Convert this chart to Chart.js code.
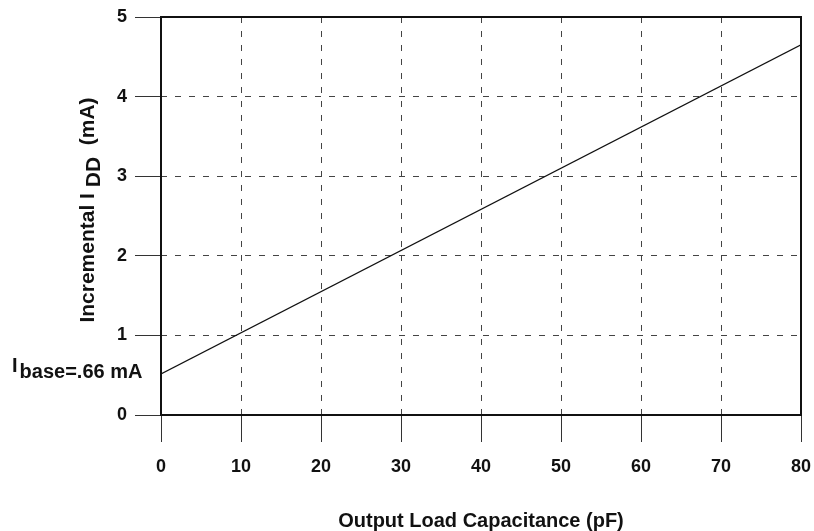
<!DOCTYPE html>
<html>
<head>
<meta charset="utf-8">
<script src="https://cdn.jsdelivr.net/npm/chart.js@4/dist/chart.umd.min.js"></script>
<style>
  html, body { margin: 0; padding: 0; background: #fff; }
  #wrap { width: 814px; height: 531px; }
</style>
</head>
<body>
<div id="wrap"><canvas id="c" width="814" height="531"></canvas></div>
<script>
// ---- data ----
const capacitance = [0, 80];          // pF
const incrementalIdd = [0.515, 4.65]; // mA
const xTicks = [0, 10, 20, 30, 40, 50, 60, 70, 80];
const yTicks = [0, 1, 2, 3, 4, 5];
const xTitle = "Output Load Capacitance (pF)";
const yTitleMain = "Incremental I ";
const yTitleSub = "DD";
const yTitleUnit = "  (mA)";
const baseMain = "I";
const baseSub = "base=.66 mA";

const FONT = "'Liberation Sans', Arial, Helvetica, sans-serif";
const TICK_PX = 18;
const XTITLE_PX = 20;
const YTITLE_PX = 21;
const BASE_PX = 20;

const points = capacitance.map((x, i) => ({ x: x, y: incrementalIdd[i] }));

const decorations = {
  id: 'decorations',
  afterDraw(chart) {
    const ctx = chart.ctx;
    const a = chart.chartArea;
    ctx.save();
    // frame
    ctx.strokeStyle = '#111';
    ctx.lineWidth = 2;
    ctx.strokeRect(a.left, a.top, a.right - a.left, a.bottom - a.top);

    ctx.fillStyle = '#111';
    // x title
    ctx.font = `bold ${XTITLE_PX}px ${FONT}`;
    ctx.textAlign = 'center';
    ctx.textBaseline = 'alphabetic';
    ctx.fillText(xTitle, 481, 527);

    // y title rotated with subscript
    ctx.save();
    ctx.translate(94, 210);
    ctx.rotate(-Math.PI / 2);
    ctx.font = `bold ${YTITLE_PX}px ${FONT}`;
    const w1 = ctx.measureText(yTitleMain).width;
    const w2 = ctx.measureText(yTitleSub).width;
    const w3 = ctx.measureText(yTitleUnit).width;
    const total = w1 + w2 + w3;
    let sx = -total / 2;
    ctx.textAlign = 'left';
    ctx.fillText(yTitleMain, sx, 0);
    sx += w1;
    ctx.fillText(yTitleSub, sx, 6);
    sx += w2;
    ctx.fillText(yTitleUnit, sx, 0);
    ctx.restore();

    // Ibase annotation
    ctx.font = `bold ${BASE_PX}px ${FONT}`;
    ctx.textAlign = 'left';
    const by = 372;
    ctx.fillText(baseMain, 12, by);
    const wi = ctx.measureText(baseMain).width;
    ctx.fillText(baseSub, 12 + wi + 2, by + 6);
    ctx.restore();
  }
};

new Chart(document.getElementById('c'), {
  type: 'scatter',
  data: {
    datasets: [{
      data: points,
      showLine: true,
      borderColor: '#111',
      borderWidth: 1.2,
      pointRadius: 0,
      fill: false
    }]
  },
  options: {
    responsive: false,
    animation: false,
    devicePixelRatio: 1,
    layout: { padding: { top: 17, right: 13, left: 0, bottom: 0 } },
    plugins: { legend: { display: false }, tooltip: { enabled: false }, title: { display: false } },
    scales: {
      x: {
        type: 'linear',
        min: 0, max: 80,
        afterBuildTicks(scale) { scale.ticks = xTicks.map(v => ({ value: v })); },
        afterFit(scale) { scale.height = 116; scale.paddingLeft = 0; scale.paddingRight = 0; },
        grid: {
          color: '#444', lineWidth: 1,
          drawTicks: true, tickLength: 27,
          tickColor: '#333', tickWidth: 1, tickBorderDash: []
        },
        border: { display: false, dash: [6, 8] },
        ticks: {
          color: '#111', padding: 14, maxRotation: 0, autoSkip: false,
          font: { family: FONT, size: TICK_PX, weight: 'bold' }
        }
      },
      y: {
        type: 'linear',
        min: 0, max: 5,
        afterBuildTicks(scale) { scale.ticks = yTicks.map(v => ({ value: v })); },
        afterFit(scale) { scale.width = 161; scale.paddingTop = 0; scale.paddingBottom = 0; },
        grid: {
          color: '#444', lineWidth: 1,
          drawTicks: true, tickLength: 26,
          tickColor: '#333', tickWidth: 1, tickBorderDash: []
        },
        border: { display: false, dash: [6, 8] },
        ticks: {
          color: '#111', padding: 8, autoSkip: false,
          font: { family: FONT, size: TICK_PX, weight: 'bold' }
        }
      }
    }
  },
  plugins: [decorations]
});
</script>
</body>
</html>
